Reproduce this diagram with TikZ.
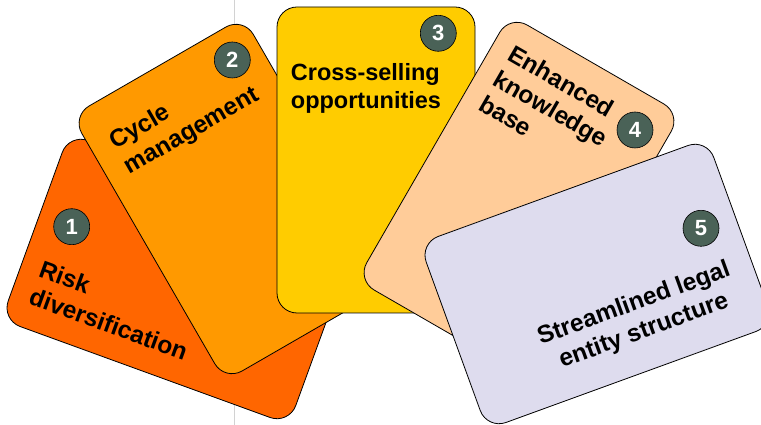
\documentclass[tikz,border=0pt]{standalone}
\usepackage{fontspec}
\setmainfont{Liberation Sans}
\definecolor{cA}{RGB}{255,102,0}
\definecolor{cB}{RGB}{255,153,0}
\definecolor{cC}{RGB}{255,204,0}
\definecolor{cD}{RGB}{255,204,153}
\definecolor{cE}{RGB}{222,220,238}
\definecolor{badgec}{RGB}{74,98,87}
\tikzset{
 cardbox/.style={draw=black, line width=0.8pt, rounded corners=20pt, inner sep=0pt},
 portrait/.style={minimum width=198pt, minimum height=306pt},
 landscape/.style={minimum width=306pt, minimum height=198pt},
 cardtext/.style={font=\bfseries\fontsize{24.5}{29}\selectfont, inner sep=0pt, text=black},
 flattext/.style={font=\bfseries\fontsize{23.5}{28.5}\selectfont, inner sep=0pt, text=black},
 badge/.style={circle, draw=black, line width=0.6pt, fill=badgec, minimum size=36pt, inner sep=0pt, text=white, font=\bfseries\fontsize{22}{22}\selectfont},
}
\begin{document}
\begin{tikzpicture}[x=1pt,y=1pt]
\useasboundingbox (0,0) rectangle (761,425);
\clip (0,0) rectangle (761,425);
\coordinate (gtop) at (234.5,425);
\coordinate (gbot) at (234.5,0);
\draw[gray!35, line width=1.2pt] (gtop) -- (gbot);

% card 1
\begin{scope}[shift={(179,146)}, rotate=-20]
\node[cardbox, landscape, fill=cA, rotate=-20] (card1) at (0,0) {};
\node[cardtext, anchor=north west, align=left, rotate=-20] (t1) at (-134,-28) {Risk\\diversification};
\end{scope}
\node[badge] (b1) at (71.7,198.3) {1};

% card 2
\begin{scope}[shift={(234,226)}, rotate=30]
\node[cardbox, portrait, fill=cB, rotate=30] (card2) at (0,0) {};
\node[cardtext, anchor=north west, align=left, rotate=30] (t2) at (-78.5,120) {Cycle\\management};
\end{scope}
\node[badge] (b2) at (232.3,365) {2};

% card 3
\begin{scope}[shift={(376,265)}]
\node[cardbox, portrait, fill=cC] (card3) at (0,0) {};
\node[flattext, anchor=north west, align=left] (t3) at (-85.3,97) {Cross-selling\\opportunities};
\end{scope}
\node[badge] (b3) at (438.3,391.7) {3};

% card 4
\begin{scope}[shift={(519,228)}, rotate=-30]
\node[cardbox, portrait, fill=cD, rotate=-30] (card4) at (0,0) {};
\node[cardtext, anchor=north west, align=left, rotate=-30] (t4) at (-80,131) {Enhanced\\knowledge\\base};
\end{scope}
\node[badge] (b4) at (635,295) {4};

% card 5
\begin{scope}[shift={(597,141)}, rotate=20]
\node[cardbox, landscape, fill=cE, rotate=20] (card5) at (0,0) {};
\node[cardtext, anchor=north, align=center, rotate=20] (t5) at (28,-20) {Streamlined legal\\entity structure};
\end{scope}
\node[badge] (b5) at (701,196.7) {5};
\end{tikzpicture}
\end{document}
